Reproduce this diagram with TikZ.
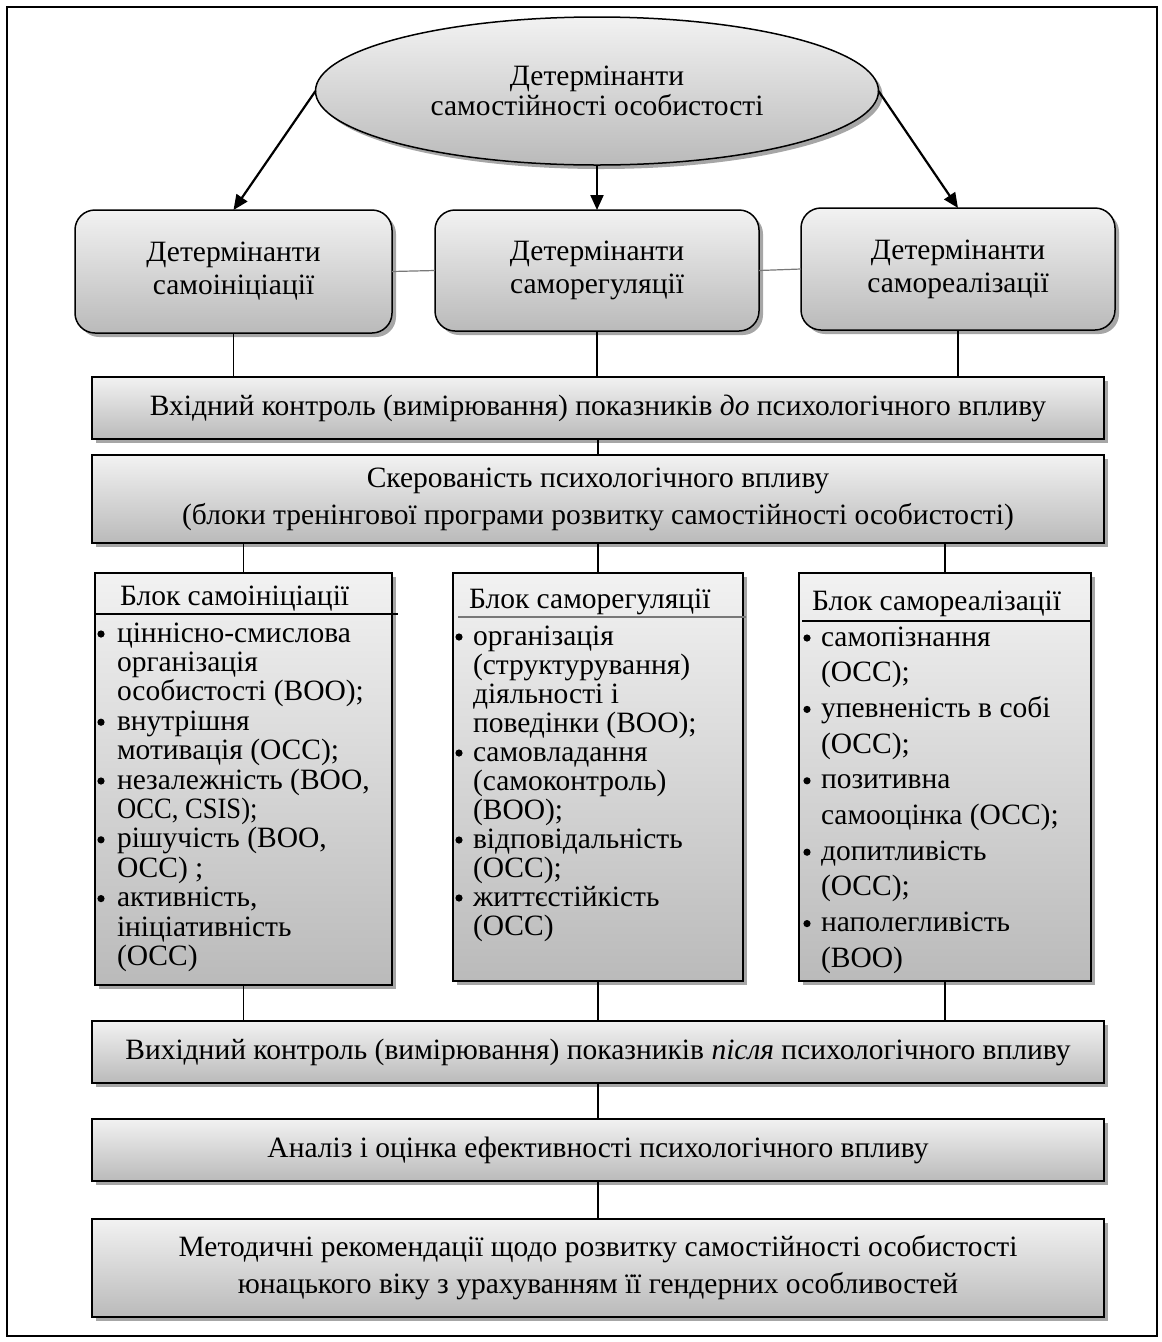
\documentclass[tikz,border=0pt]{standalone}
\usepackage{fontspec}
\usepackage{graphicx}
\setmainfont{Liberation Serif}
\usetikzlibrary{shadows,arrows.meta,shapes.geometric}
\definecolor{topc}{RGB}{242,242,242}
\definecolor{botc}{RGB}{186,186,186}
\definecolor{linegray}{RGB}{120,120,120}
\newcommand\ftA{\fontsize{29.5}{33}\selectfont}
\newcommand\ftE{\fontsize{29.5}{30}\selectfont}
\newcommand\ftW{\fontsize{29.5}{37}\selectfont}
\begin{document}
\begin{tikzpicture}[x=1pt,y=-1pt,
  every node/.style={inner sep=0pt,outer sep=0pt},
  shd/.style={drop shadow={shadow xshift=4pt,shadow yshift=-4pt,fill=black,opacity=0.35}},
  grad/.style={top color=topc,bottom color=botc},
  rbox/.style={draw,line width=1.5pt,rounded corners=20pt,grad,shd,align=center,font=\ftA},
  wbox/.style={draw,line width=1.5pt,grad,shd,align=center,font=\ftW,minimum width=1012pt},
  bbox/.style={draw,line width=1.5pt,grad,shd},
  conn/.style={line width=1.2pt},
  arr/.style={line width=2.2pt,-{Triangle[length=15pt,width=13pt]}},
  ln/.style={anchor=base west,font=\ftA},
  dot/.style={fill=black}
]
\useasboundingbox (0,0) rectangle (1162,1342);
\draw[line width=2.5pt] (7,7) rectangle (1157,1336);

% top ellipse
\node[ellipse,draw,line width=1.5pt,grad,shd,minimum width=563pt,minimum height=148pt,align=center,font=\ftE] (det) at (597,91) {Детермінанти\\самостійності особистості};

% rounded boxes
\node[rbox,minimum width=317pt,minimum height=123pt] (r1) at (233.5,271.5) {Детермінанти\\самоініціації};
\node[rbox,minimum width=324pt,minimum height=121pt] (r2) at (597,270.5) {Детермінанти\\саморегуляції};
\node[rbox,minimum width=314pt,minimum height=122pt] (r3) at (958,269) {Детермінанти\\самореалізації};

% wide boxes
\node[wbox,minimum height=62pt] (vk) at (598,408) {Вхідний контроль (вимірювання) показників \textit{до} психологічного впливу};
\node[wbox,minimum height=88pt] (sk) at (598,499) {Скерованість психологічного впливу\\(блоки тренінгової програми розвитку самостійності особистості)};
\node[wbox,minimum height=62pt] (vyk) at (598,1052) {Вихідний контроль (вимірювання) показників \textit{після} психологічного впливу};
\node[wbox,minimum height=62pt] (an) at (598,1150) {Аналіз і оцінка ефективності психологічного впливу};
\node[wbox,minimum height=98pt] (met) at (598,1268) {Методичні рекомендації щодо розвитку самостійності особистості\\юнацького віку з урахуванням її гендерних особливостей};

% blocks
\node[bbox,minimum width=297pt,minimum height=412pt] (b1) at (243.5,779) {};
\node[bbox,minimum width=290pt,minimum height=408pt] (b2) at (598,777) {};
\node[bbox,minimum width=292pt,minimum height=408pt] (b3) at (945,777) {};

% block headers
\node[ln] (h1) at (120,605) {Блок самоініціації};
\node[ln] (h2) at (469,608) {Блок саморегуляції};
\node[ln] (h3) at (812,610) {Блок самореалізації};
\draw[line width=1.2pt] (95,614) -- (398,614);
\draw[line width=1.2pt,linegray] (458,617) -- (746,617);
\draw[line width=1.2pt] (802,621) -- (1092,621);

% block contents
\foreach \t [count=\i] in {{ціннісно-смислова},{організація},{особистості (ВОО);},{внутрішня},{мотивація (ОСС);},{незалежність (ВОО,},{\scalebox{0.9}[1]{ОСС, CSIS);}},{рішучість (ВОО,},{ОСС) ;},{активність,},{ініціативність},{(ОСС)}}
  \node[ln] (la\i) at (117,{642+29.4*(\i-1)}) {\t};
\foreach \i in {1,4,6,8,10}
  \fill[dot] (101,{642+29.4*(\i-1)-8}) circle[radius=3.6pt];
\foreach \t [count=\i] in {{організація},{(структурування)},{діяльності і},{поведінки (ВОО);},{самовладання},{(самоконтроль)},{(ВОО);},{відповідальність},{(ОСС);},{життєстійкість},{(ОСС)}}
  \node[ln] (lb\i) at (473,{645+29*(\i-1)}) {\t};
\foreach \i in {1,5,8,10}
  \fill[dot] (459,{645+29*(\i-1)-8}) circle[radius=3.6pt];
\foreach \t [count=\i] in {{самопізнання},{(ОСС);},{упевненість в собі},{(ОСС);},{позитивна},{самооцінка (ОСС);},{допитливість},{(ОСС);},{наполегливість},{(ВОО)}}
  \node[ln] (lc\i) at (821,{646+35.7*(\i-1)}) {\t};
\foreach \i in {1,3,5,7,9}
  \fill[dot] (807,{646+35.7*(\i-1)-8}) circle[radius=3.6pt];

% arrows
\draw[arr] (det.west) -- (r1.north);
\draw[arr] (det.south) -- (r2.north);
\draw[arr] (det.east) -- (r3.north);

% connectors
\draw[conn,linegray] (r1.east) -- (r2.west);
\draw[conn,linegray] (r2.east) -- (r3.west);
\draw[conn] (r1.south) -- (r1.south |- vk.north);
\draw[conn] (r2.south) -- (r2.south |- vk.north);
\draw[conn] (r3.south) -- (r3.south |- vk.north);
\draw[conn] (vk.south) -- (sk.north);
\draw[conn] (b1.north |- sk.south) -- (b1.north);
\draw[conn] (b2.north |- sk.south) -- (b2.north);
\draw[conn] (b3.north |- sk.south) -- (b3.north);
\draw[conn] (b1.south) -- (b1.south |- vyk.north);
\draw[conn] (b2.south) -- (b2.south |- vyk.north);
\draw[conn] (b3.south) -- (b3.south |- vyk.north);
\draw[conn] (vyk.south) -- (an.north);
\draw[conn] (an.south) -- (met.north);
\end{tikzpicture}
\end{document}
